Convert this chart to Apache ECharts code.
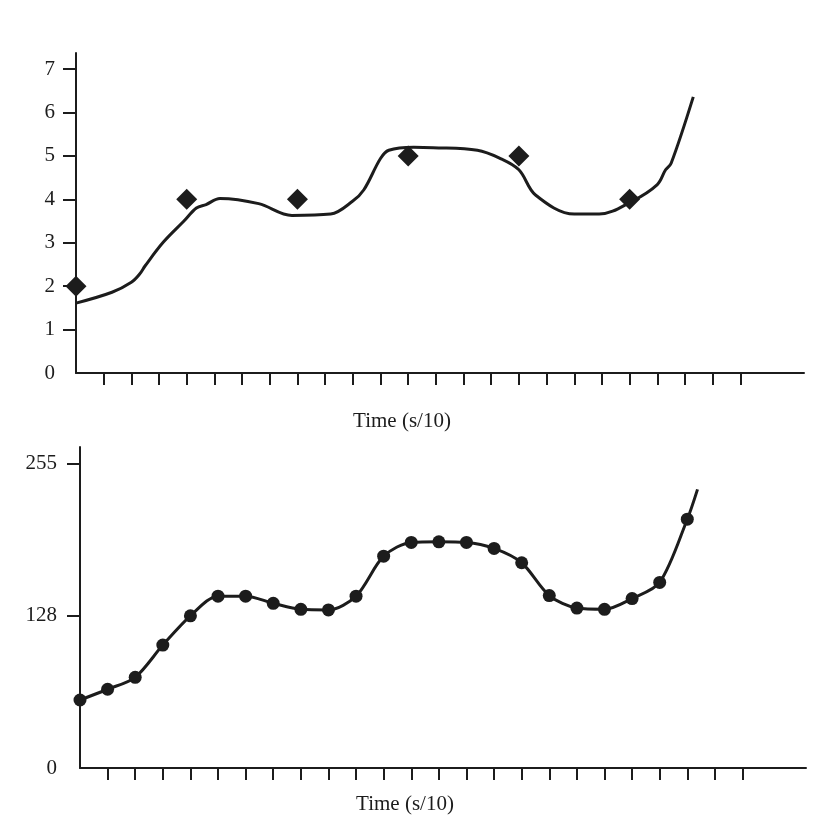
<!DOCTYPE html>
<html>
<head>
<meta charset="utf-8">
<script src="https://cdn.jsdelivr.net/npm/echarts@6/dist/echarts.min.js"></script>
<style>
html,body{margin:0;padding:0;background:#fff;}
#chart{width:834px;height:820px;}
</style>
</head>
<body>
<div id="chart"></div>
<script>
// ---- data ----
const xTicks = [1,2,3,4,5,6,7,8,9,10,11,12,13,14,15,16,17,18,19,20,21,22,23,24];
const topYTicks = [1,2,3,4,5,6,7];
const topYLabels = [0,1,2,3,4,5,6,7];
const bottomYTicks = [128,255];
const bottomYLabels = [0,128,255];
const axisName = 'Time (s/10)';

// top panel: fitted curve and diamond samples
const topLineX = [0,1.3,2,2.3,2.5,3.15,3.9,4.35,4.7,5.2,6.6,7.8,9.2,10,10.4,11,11.3,12.2,12.9,14.5,15.3,16,16.6,18,18.9,20.1,21,21.3,21.5,22.3];
const topLineY = [1.61,1.86,2.09,2.28,2.47,3.01,3.50,3.80,3.88,4.02,3.90,3.63,3.66,3.96,4.22,4.94,5.13,5.20,5.19,5.13,4.95,4.68,4.10,3.66,3.66,3.96,4.34,4.68,4.83,6.36];
const diamondX = [0,4,8,12,16,20];
const diamondY = [2,4,4,5,5,4];

// bottom panel: signal sampled at every tick
const sampleX = [0,1,2,3,4,5,6,7,8,9,10,11,12,13,14,15,16,17,18,19,20,21,22];
const sampleY = [57,66,76,103,127.5,144,144,138,133,132.5,144,177.5,189,189.5,189,184,172,144.5,134,133,142,155.5,208.5];
const tailX = [22.37];
const tailY = [233.5];

// ---- chart ----
const INK = '#1c1c1c';
const FONT = 'Liberation Serif';

function xAxisCfg(gridIndex, gap){
  return {
    type:'value', gridIndex, min:0, max:26.3,
    axisLine:{show:true, onZero:false, lineStyle:{color:INK, width:2}},
    axisTick:{show:true, customValues:xTicks, length:12, inside:false, lineStyle:{color:INK, width:2}},
    axisLabel:{show:false},
    splitLine:{show:false},
    name:axisName, nameLocation:'middle', nameGap:gap,
    nameTextStyle:{fontFamily:FONT, fontSize:21, color:INK, padding:[0,76,0,0]}
  };
}
function yAxisCfg(gridIndex, max, ticks, labels, margin){
  return {
    type:'value', gridIndex, min:0, max:max,
    axisLine:{show:true, onZero:false, lineStyle:{color:INK, width:2}},
    axisTick:{show:true, customValues:ticks, length:13, inside:false, lineStyle:{color:INK, width:2}},
    axisLabel:{show:true, customValues:labels, fontFamily:FONT, fontSize:21, color:INK, margin:margin},
    splitLine:{show:false}
  };
}

const chart = echarts.init(document.getElementById('chart'), null, {renderer:'canvas'});
chart.setOption({
  backgroundColor:'#fff',
  animation:false,
  grid:[
    {left:76, right:30, top:53, bottom:447},
    {left:80, right:28, top:447, bottom:52}
  ],
  xAxis:[xAxisCfg(0, 38), xAxisCfg(1, 26)],
  yAxis:[
    yAxisCfg(0, 7.37, topYTicks, topYLabels, 21),
    yAxisCfg(1, 269, bottomYTicks, bottomYLabels, 23)
  ],
  series:[
    {
      type:'line', xAxisIndex:0, yAxisIndex:0,
      data: topLineX.map((x,i)=>[x, topLineY[i]]),
      showSymbol:false, smooth:0.35,
      lineStyle:{color:INK, width:3}
    },
    {
      type:'scatter', xAxisIndex:0, yAxisIndex:0,
      data: diamondX.map((x,i)=>[x, diamondY[i]]),
      symbol:'diamond', symbolSize:21,
      itemStyle:{color:INK, opacity:1}
    },
    {
      type:'line', xAxisIndex:1, yAxisIndex:1,
      data: sampleX.map((x,i)=>[x, sampleY[i]]).concat(
        tailX.map((x,i)=>({value:[x, tailY[i]], symbol:'none'}))),
      symbol:'circle', symbolSize:13, showSymbol:true, smooth:0.3,
      lineStyle:{color:INK, width:3},
      itemStyle:{color:INK}
    }
  ]
});
</script>
</body>
</html>
